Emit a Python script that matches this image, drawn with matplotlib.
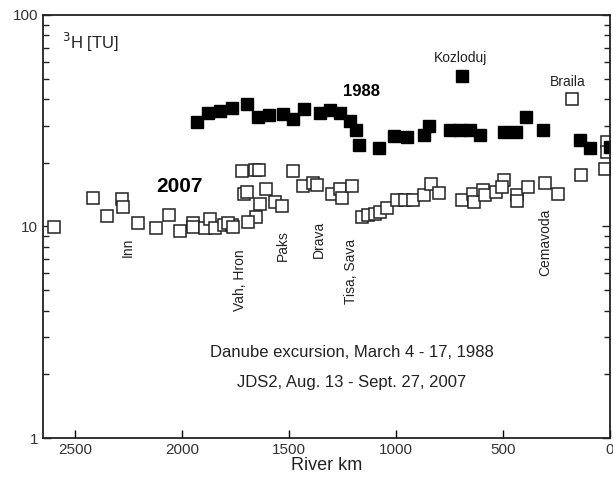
import matplotlib.pyplot as plt
from matplotlib.ticker import FixedLocator, FixedFormatter, LogLocator, NullFormatter

plt.rcParams['font.family'] = ['Liberation Sans', 'DejaVu Sans']

# Danube excursion 1988 (filled squares)
km_1988 = [1929, 1878, 1823, 1768, 1698, 1644, 1593, 1527, 1480, 1429,
           1356, 1309, 1262, 1215, 1189, 1173, 1080, 1010, 948, 870,
           846, 691, 748, 701, 655, 605, 496, 440, 390, 312,
           141, 94, 0]
tu_1988 = [31.0, 34.3, 35.3, 36.2, 37.9, 32.8, 33.7, 34.0, 32.1, 35.8,
           34.5, 35.6, 34.5, 31.6, 28.6, 24.3, 23.4, 26.8, 26.6, 27.1,
           30.0, 51.5, 28.6, 28.6, 28.6, 27.1, 27.9, 27.9, 32.8, 28.6,
           25.6, 23.4, 23.7]

# JDS2 2007 (open squares)
km_2007 = [2599, 2415, 2352, 2282, 2275, 2205, 2122, 2061, 2010, 1948,
           1948, 1893, 1870, 1846, 1804, 1764, 1784, 1761, 1721, 1659,
           1639, 1711, 1695, 1608, 1636, 1656, 1691, 1563, 1532, 1483,
           1436, 1387, 1371, 1301, 1262, 1250, 1207, 1161, 1130, 1099,
           1075, 1044, 997, 958, 922, 870, 838, 798, 693, 642,
           636, 592, 585, 533, 496, 506, 436, 434, 385, 304,
           242, 175, 136, 24, 16, 13]
tu_2007 = [9.91, 13.6, 11.25, 13.5, 12.3, 10.35, 9.87, 11.3, 9.52, 10.4,
           9.98, 9.8, 10.8, 9.8, 10.2, 10.2, 10.4, 9.98, 18.2, 18.5,
           18.5, 14.2, 14.5, 15.0, 12.8, 11.05, 10.5, 13.1, 12.5, 18.2,
           15.5, 16.0, 15.7, 14.2, 15.0, 13.7, 15.6, 11.05, 11.3, 11.5,
           11.7, 12.2, 13.4, 13.4, 13.4, 14.1, 15.9, 14.4, 13.4, 14.2,
           13.1, 14.8, 14.1, 14.5, 16.6, 15.4, 14.1, 13.2, 15.3, 16.1,
           14.2, 39.9, 17.5, 18.6, 25.2, 22.6]

# tributaries / sites (label, km, TU position)
site_names = ["Inn", "Vah, Hron", "Paks", "Drava", "Tisa, Sava", "Cemavoda"]
site_km = [2253, 1729, 1528, 1360, 1211, 304]
site_tu = [8.0, 5.6, 8.1, 8.7, 6.1, 8.4]

fig = plt.figure(figsize=(6.13, 4.8), dpi=100)
ax = fig.add_axes([0.070, 0.0875, 0.925, 0.8815])

ax.plot(km_2007, tu_2007, 's', ms=9, mfc='white', mec='#222222', mew=1.1, ls='none')
ax.plot(km_1988, tu_1988, 's', ms=9, mfc='black', mec='black', ls='none')

ax.set_yscale('log')
ax.set_ylim(1, 100)
ax.set_xlim(2650, 0)

ax.yaxis.set_major_locator(FixedLocator([1, 10, 100]))
ax.yaxis.set_major_formatter(FixedFormatter(['1', '10', '100']))
ax.yaxis.set_minor_locator(LogLocator(base=10, subs=range(2, 10)))
ax.yaxis.set_minor_formatter(NullFormatter())
ax.set_xticks([2500, 2000, 1500, 1000, 500, 0])

ax.tick_params(axis='y', which='both', direction='in', left=True, right=True,
               labelsize=11, colors='#222222', labelcolor='#333333')
ax.tick_params(axis='y', which='major', length=6, width=1)
ax.tick_params(axis='y', which='minor', length=4, width=1)
ax.tick_params(axis='x', direction='in', top=False, length=6, width=1,
               labelsize=11, labelcolor='#333333')
for s in ax.spines.values():
    s.set_linewidth(1.3)
    s.set_color('#222222')

ax.set_xlabel("River km", fontsize=13, color='#222222', labelpad=0)

for name, k, t in zip(site_names, site_km, site_tu):
    ax.text(k, t, name, rotation=90, ha='center', va='center',
            fontsize=10, color='#222222')

ax.text(2010, 15.4, "2007", fontsize=15, fontweight='bold', ha='center', va='center')
ax.text(1159, 43.3, "1988", fontsize=12, fontweight='bold', ha='center', va='center')
ax.text(697, 62.6, "Kozloduj", fontsize=10, ha='center', va='center', color='#222222')
ax.text(197, 48.2, "Braila", fontsize=10, ha='center', va='center', color='#222222')
ax.text(0.034, 0.934, "$^3$H [TU]", transform=ax.transAxes, fontsize=12,
        ha='left', va='center', color='#222222')

ax.text(0.545, 0.201, "Danube excursion, March 4 - 17, 1988", transform=ax.transAxes,
        fontsize=12, ha='center', va='center', color='#222222')
ax.text(0.545, 0.130, "JDS2, Aug. 13 - Sept. 27, 2007", transform=ax.transAxes,
        fontsize=12, ha='center', va='center', color='#222222')

fig.savefig("out.png", dpi=100)
